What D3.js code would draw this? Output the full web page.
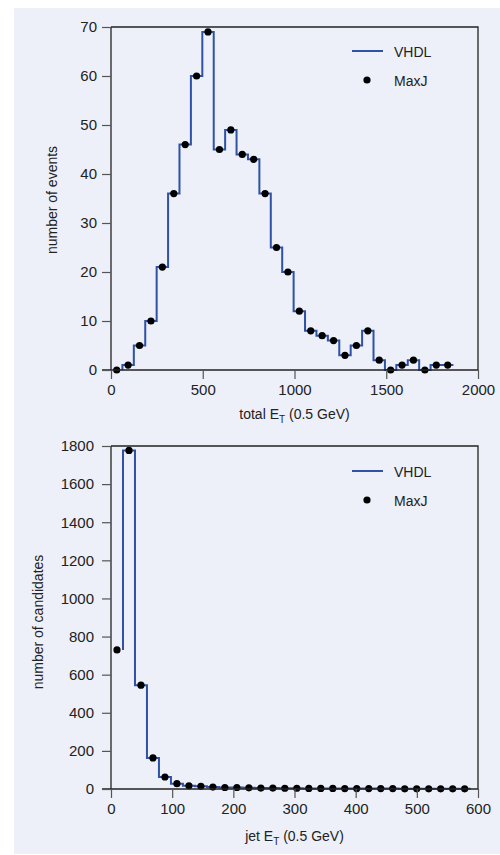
<!DOCTYPE html>
<html>
<head>
<meta charset="utf-8">
<script src="https://cdn.jsdelivr.net/npm/d3@7/dist/d3.min.js"></script>
<style>
  html, body { margin: 0; padding: 0; background: #ffffff; }
  svg { display: block; }
  text { font-family: "Liberation Sans", Arial, sans-serif; fill: #222; }
</style>
</head>
<body>
<svg id="chart" width="500" height="855"></svg>
<script>
// ---- Data ----
// Top: total E_T histogram, 30 bins
const topBinWidth = 62.2;
const topVHDL = [0,1,5,10,21,36,46,60,69,45,49,44,43,36,25,20,12,8,7,6,3,5,8,2,0,1,2,0,1,1];
const topMaxJ = [0,1,5,10,21,36,46,60,69,45,49,44,43,36,25,20,12,8,7,6,3,5,8,2,0,1,2,0,1,1];
const topXTicks = [0, 500, 1000, 1500, 2000];
const topYTicks = [0, 10, 20, 30, 40, 50, 60, 70];

// Bottom: jet E_T histogram, 30 bins
const botBinWidth = 19.6;
const botVHDL = [730,1777,545,163,63,28,17,14,10,8,8,6,5,5,4,4,3,3,3,2,2,2,2,2,1,1,1,1,1,1];
const botMaxJ = [730,1777,545,163,63,28,17,14,10,8,8,6,5,5,4,4,3,3,3,2,2,2,2,2,1,1,1,1,1,1];
const botXTicks = [0, 100, 200, 300, 400, 500, 600];
const botYTicks = [0, 200, 400, 600, 800, 1000, 1200, 1400, 1600, 1800];

const seriesNames = ["VHDL", "MaxJ"];
const lineColor = "#2f52a6";

const svg = d3.select("#chart");

// panel background
svg.append("rect").attr("x", 14).attr("y", 8).attr("width", 486).attr("height", 846)
  .attr("fill", "#edf0f9");

function drawPanel(cfg) {
  const g = svg.append("g");
  const x = d3.scaleLinear().domain(cfg.xDomain).range([cfg.left, cfg.right]);
  const y = d3.scaleLinear().domain(cfg.yDomain).range([cfg.bottom, cfg.top]);

  // frame (top & right)
  g.append("path")
    .attr("d", `M${cfg.left},${cfg.top}H${cfg.right}V${cfg.bottom}`)
    .attr("fill", "none").attr("stroke", "#222").attr("stroke-width", 1.3);

  // step line (VHDL)
  const pts = cfg.vhdl.map((v, i) => [(i + 1) * cfg.binWidth, v]);
  const line = d3.line().x(d => x(d[0])).y(d => y(d[1])).curve(d3.curveStepBefore);
  g.append("path").datum(pts)
    .attr("d", line).attr("fill", "none")
    .attr("stroke", lineColor).attr("stroke-width", 2);

  // dots (MaxJ)
  g.selectAll("circle.pt").data(cfg.maxj).join("circle")
    .attr("class", "pt")
    .attr("cx", (d, i) => x((i + 0.5) * cfg.binWidth))
    .attr("cy", d => y(d))
    .attr("r", 3.6).attr("fill", "#000");

  // axes
  const xAxis = d3.axisBottom(x).tickValues(cfg.xTicks).tickFormat(d3.format("d"))
    .tickSize(9).tickPadding(5);
  const xg = g.append("g").attr("transform", `translate(0,${cfg.bottom})`).call(xAxis);
  const yAxis = d3.axisLeft(y).tickValues(cfg.yTicks).tickFormat(d3.format("d"))
    .tickSize(9).tickPadding(cfg.yPad);
  const yg = g.append("g").attr("transform", `translate(${cfg.left},0)`).call(yAxis);
  [xg, yg].forEach(a => {
    a.select(".domain").attr("stroke", "#222").attr("stroke-width", 1.3);
    a.selectAll(".tick line").attr("stroke", "#555").attr("stroke-width", 1.2);
    a.selectAll(".tick text").attr("font-size", 15).attr("fill", "#222")
      .attr("font-family", "Liberation Sans, Arial, sans-serif");
  });
  // extend x domain line to the left to meet the tick
  xg.select(".domain").attr("d", `M${cfg.left - 9},0H${cfg.right}`);
  yg.select(".domain").attr("d", `M0,${cfg.bottom}V${cfg.top}`);

  // x title
  const xt = g.append("text").attr("x", (cfg.left + cfg.right) / 2).attr("y", cfg.xTitleY)
    .attr("text-anchor", "middle").attr("font-size", 14);
  xt.append("tspan").text(cfg.xTitle + " E");
  xt.append("tspan").text("T").attr("font-size", 10).attr("dy", 4);
  xt.append("tspan").text(" (0.5 GeV)").attr("dy", -4);

  // y title
  g.append("text")
    .attr("transform", `translate(${cfg.yTitleX},${cfg.yTitleY}) rotate(-90)`)
    .attr("text-anchor", "middle").attr("dominant-baseline", "central")
    .attr("font-size", 14).text(cfg.yTitle);

  // legend
  const lg = g.append("g");
  lg.append("line").attr("x1", 352).attr("x2", 383)
    .attr("y1", cfg.legY).attr("y2", cfg.legY)
    .attr("stroke", lineColor).attr("stroke-width", 2);
  lg.append("text").attr("x", 394).attr("y", cfg.legY + 1)
    .attr("dominant-baseline", "central").attr("font-size", 14).text(seriesNames[0]);
  lg.append("circle").attr("cx", 367).attr("cy", cfg.legY + 29).attr("r", 3.6).attr("fill", "#000");
  lg.append("text").attr("x", 394).attr("y", cfg.legY + 30)
    .attr("dominant-baseline", "central").attr("font-size", 14).text(seriesNames[1]);
}

drawPanel({
  left: 111, right: 478, top: 27, bottom: 370,
  xDomain: [0, 2000], yDomain: [0, 70],
  xTicks: topXTicks, yTicks: topYTicks,
  binWidth: topBinWidth, vhdl: topVHDL, maxj: topMaxJ,
  xTitle: "total", yTitle: "number of events",
  xTitleY: 419, yTitleX: 52, yTitleY: 200, yPad: 5,
  legY: 51
});

drawPanel({
  left: 111, right: 478, top: 446, bottom: 789,
  xDomain: [0, 600], yDomain: [0, 1800],
  xTicks: botXTicks, yTicks: botYTicks,
  binWidth: botBinWidth, vhdl: botVHDL, maxj: botMaxJ,
  xTitle: "jet", yTitle: "number of candidates",
  xTitleY: 841, yTitleX: 38, yTitleY: 622, yPad: 8,
  legY: 471
});
</script>
</body>
</html>
